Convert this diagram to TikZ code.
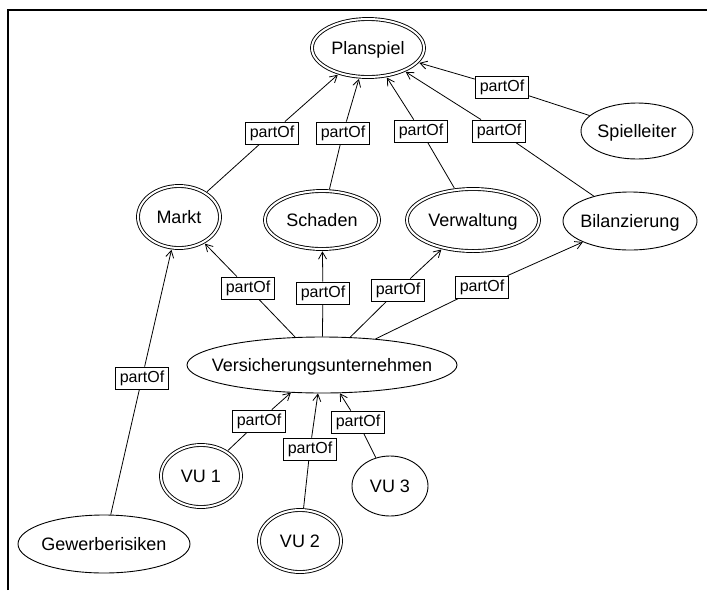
\documentclass[tikz,border=0pt]{standalone}
\usepackage{fontspec}
\setmainfont{Liberation Sans}
\usetikzlibrary{shapes.geometric,arrows.meta}
\newcommand{\ctext}[1]{\makebox[0pt]{#1}}
\begin{document}
\begin{tikzpicture}[x=1pt,y=-1pt,
  concept/.style={ellipse, draw, line width=0.9pt, inner sep=0pt,
    font=\fontsize{18}{20}\selectfont, text height=13pt, text depth=0pt},
  dconcept/.style={concept, double, double distance=2pt, outer sep=2.3pt},
  tag/.style={draw, fill=white, rectangle, line width=0.9pt,
    inner xsep=4.5pt, inner ysep=3.5pt, font=\fontsize{16}{18}\selectfont},
  rel/.style={line width=0.8pt},
  isa/.style={rel, -{Straight Barb[length=7pt,width=8pt]}}
]
\useasboundingbox (0,0) rectangle (707,590);

% frame
\draw[line width=2pt] (7.5,590) -- (7.5,9.5) -- (707,9.5);

% concepts
\node[dconcept, minimum width=112pt, minimum height=58pt] (plan) at (368,48) {\ctext{Planspiel}};
\node[concept,  minimum width=112pt, minimum height=56pt] (spl)  at (637,131) {\ctext{Spielleiter}};
\node[dconcept, minimum width=82pt,  minimum height=62pt] (markt) at (179,217) {\ctext{Markt}};
\node[dconcept, minimum width=114pt, minimum height=58pt] (schad) at (322,220) {\ctext{Schaden}};
\node[dconcept, minimum width=132pt, minimum height=62pt] (verw) at (473,220) {\ctext{Verwaltung}};
\node[concept,  minimum width=134pt, minimum height=58pt] (bil)  at (630,221) {\ctext{Bilanzierung}};
\node[concept,  minimum width=270pt, minimum height=56pt] (vu)   at (322,365) {\ctext{Versicherungsunternehmen}};
\node[dconcept, minimum width=80pt,  minimum height=62pt] (vu1)  at (201,476) {\ctext{VU 1}};
\node[dconcept, minimum width=82pt,  minimum height=62pt] (vu2)  at (300,541) {\ctext{VU 2}};
\node[concept,  minimum width=76pt,  minimum height=60pt] (vu3)  at (390,486) {\ctext{VU 3}};
\node[concept,  minimum width=172pt, minimum height=58pt] (gew)  at (104,544) {\ctext{Gewerberisiken}};

% relation labels
\node[tag] (tsp) at (502,87)  {partOf};
\node[tag] (tm)  at (272,133) {partOf};
\node[tag] (ts)  at (343,133) {partOf};
\node[tag] (tv)  at (421,131) {partOf};
\node[tag] (tb)  at (499,131) {partOf};
\node[tag] (tvm) at (248,288) {partOf};
\node[tag] (tvs) at (323,293) {partOf};
\node[tag] (tvv) at (398,290) {partOf};
\node[tag] (tvb) at (482,287) {partOf};
\node[tag] (tg)  at (142,378) {partOf};
\node[tag] (t1)  at (259,421) {partOf};
\node[tag] (t2)  at (310,449) {partOf};
\node[tag] (t3)  at (358,422) {partOf};

% partOf relations: child -- label -> parent
\draw[rel] (spl) -- (tsp);   \draw[isa] (tsp) -- (plan);
\draw[rel] (markt) -- (tm);  \draw[isa] (tm) -- (plan);
\draw[rel] (schad) -- (ts);  \draw[isa] (ts) -- (plan);
\draw[rel] (verw) -- (tv);   \draw[isa] (tv) -- (plan);
\draw[rel] (bil) -- (tb);    \draw[isa] (tb) -- (plan);
\draw[rel] (vu) -- (tvm);    \draw[isa] (tvm) -- (markt);
\draw[rel] (vu) -- (tvs);    \draw[isa] (tvs) -- (schad);
\draw[rel] (vu) -- (tvv);    \draw[isa] (tvv) -- (verw);
\draw[rel] (vu) -- (tvb);    \draw[isa] (tvb) -- (bil);
\draw[rel] (gew) -- (tg);    \draw[isa] (tg) -- (markt);
\draw[rel] (vu1) -- (t1);    \draw[isa] (t1) -- (vu);
\draw[rel] (vu2) -- (t2);    \draw[isa] (t2) -- (vu);
\draw[rel] (vu3) -- (t3);    \draw[isa] (t3) -- (vu);
\end{tikzpicture}
\end{document}
